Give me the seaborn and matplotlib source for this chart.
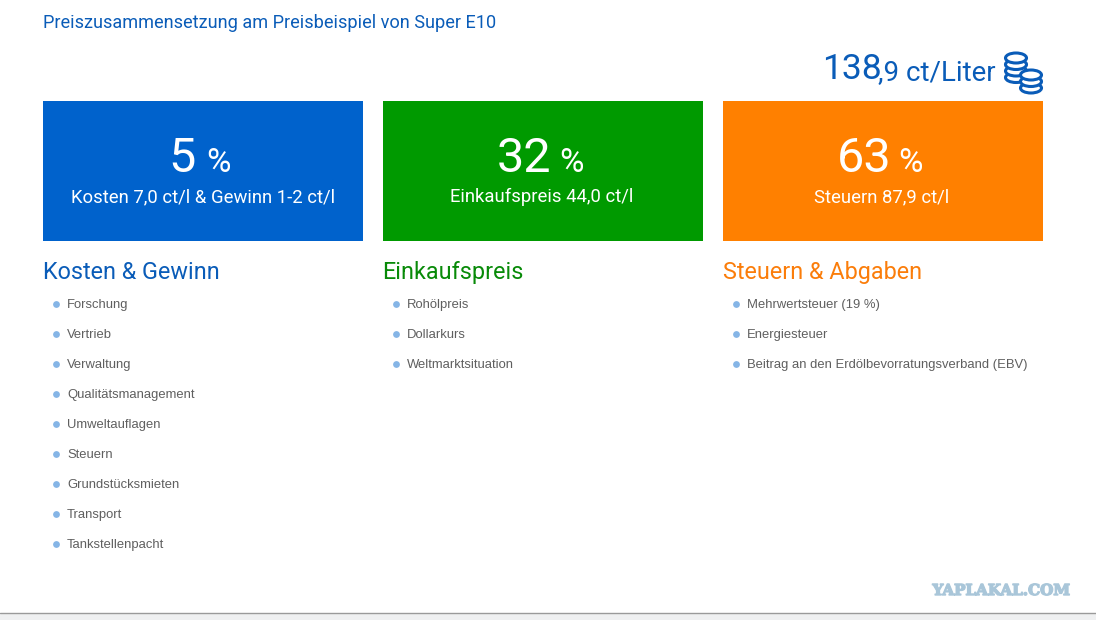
import pandas as pd
import matplotlib.pyplot as plt
import matplotlib.patheffects as pe
import seaborn as sns
from matplotlib.patches import Ellipse, Rectangle

sns.set_theme(style="white")
plt.rcParams['font.family'] = ['Roboto', 'DejaVu Sans']

title = "Preiszusammensetzung am Preisbeispiel von Super E10"
percent = ["5", "32", "63"]
subtitle = ["Kosten 7,0 ct/l & Gewinn 1-2 ct/l", "Einkaufspreis 44,0 ct/l", "Steuern 87,9 ct/l"]
heading = ["Kosten & Gewinn", "Einkaufspreis", "Steuern & Abgaben"]
colors = ["#0062cc", "#009a00", "#ff8000"]
head_colors = ["#0a5cb8", "#088a08", "#fb7d0a"]
items_kosten = ["Forschung", "Vertrieb", "Verwaltung", "Qualitätsmanagement", "Umweltauflagen",
                "Steuern", "Grundstücksmieten", "Transport", "Tankstellenpacht"]
items_einkauf = ["Rohölpreis", "Dollarkurs", "Weltmarktsituation"]
items_steuern = ["Mehrwertsteuer (19 %)", "Energiesteuer", "Beitrag an den Erdölbevorratungsverband (EBV)"]
all_items = [items_kosten, items_einkauf, items_steuern]

fig = plt.figure(figsize=(10.96, 6.2), dpi=100)
ax = fig.add_axes([0, 0, 1, 1])
ax.set_xlim(0, 1096)
ax.set_ylim(620, 0)
ax.axis("off")

BLUE = "#0a5cb8"
ax.text(43, 28, title, color=BLUE, fontsize=13.05, va="baseline")

# price top right
ax.text(822, 79, "138", color=BLUE, fontsize=25.5, va="baseline")
ax.text(878, 80, ",9 ct/Liter", color=BLUE, fontsize=20, va="baseline")


def coin_stack(cx, top, n):
    # small stack of coins, drawn from the bottom up
    for k in range(n - 1, -1, -1):
        y = top + k * 6.5
        ax.add_patch(Ellipse((cx, y + 5), 21, 10, fc="white", ec="#0a5cb8", lw=2.2, zorder=5 + n - k))


coin_stack(1016, 53, 4)
coin_stack(1031, 70, 3)

# tiles and headings
lefts = [43, 383, 723]
num_right = [196, 551, 891]
pct_left = [206, 559, 898]
sub_x = [203, 542, 882]
for i, left in enumerate(lefts):
    ax.add_patch(Rectangle((left, 101), 320, 140, fc=colors[i], ec="none"))
    ax.text(num_right[i], 172, percent[i], color="white", fontsize=35, ha="right", va="baseline")
    ax.text(pct_left[i], 172, "%", color="white", fontsize=24, ha="left", va="baseline")
    ax.text(sub_x[i], 202, subtitle[i], color="white", fontsize=13.3, ha="center", va="baseline")
    ax.text(left - (1 if i == 1 else 0), 279, heading[i], color=head_colors[i], fontsize=16.8, va="baseline")

# bullet lists
rows = []
for i, items in enumerate(all_items):
    for j, label in enumerate(items):
        rows.append({"col": i, "row": j, "label": label})
df = pd.DataFrame(rows)
df["x"] = df["col"].map({0: 56, 1: 396, 2: 736})
df["y"] = 304 + df["row"] * 30
sns.scatterplot(data=df, x="x", y="y", ax=ax, color="#85b5e6", s=24, linewidth=0, legend=False)
for _, r in df.iterrows():
    ax.text(r["x"] + 11, r["y"] + 4, r["label"], color="#5f5f5f", fontsize=9.4,
            family=["Liberation Sans"], va="baseline")
ax.set_xlabel("")
ax.set_ylabel("")

# watermark and bottom strip
ax.text(1070, 595, "YAPLAKAL.COM", color="#a9c6d9", fontsize=10.9, fontweight="bold",
        family=["DejaVu Serif"], ha="right", va="baseline",
        path_effects=[pe.withStroke(linewidth=1, foreground="#a9c6d9")])
ax.add_patch(Rectangle((0, 613), 1096, 7, fc="#eff0f1", ec="none"))
ax.plot([0, 1096], [613, 613], color="#9a9a9a", lw=1)

fig.savefig("out.png", dpi=100)
